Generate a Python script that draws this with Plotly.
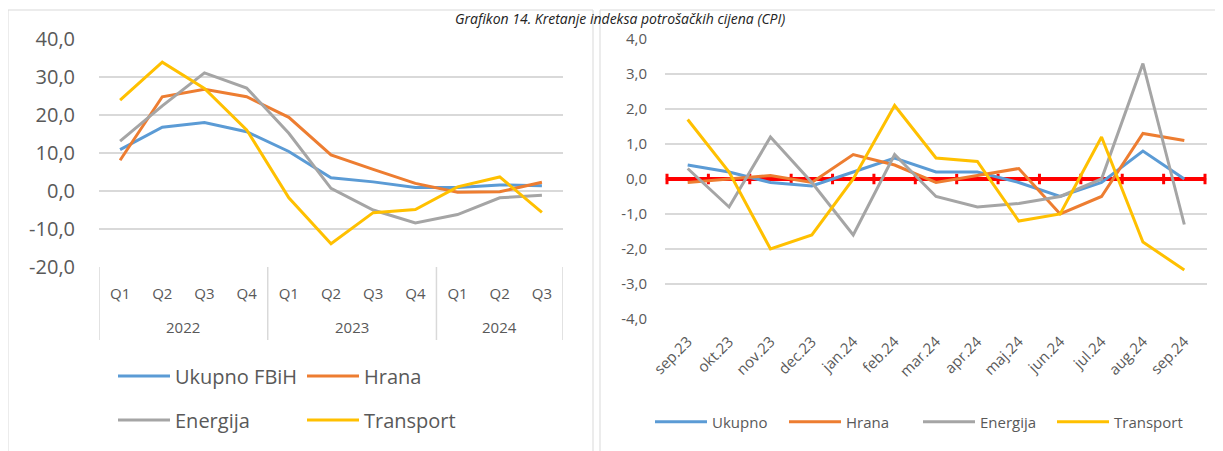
import plotly.graph_objects as go

W, H = 1223, 451
OFF = 8  # page margin of the html body around the figure

# ---------------- data: left chart (quarterly) ----------------
years = ["2022"] * 4 + ["2023"] * 4 + ["2024"] * 3
quarters = ["Q1", "Q2", "Q3", "Q4", "Q1", "Q2", "Q3", "Q4", "Q1", "Q2", "Q3"]
q_ukupno = [10.9, 16.8, 18.0, 15.6, 10.4, 3.5, 2.4, 0.9, 0.9, 1.6, 1.4]
q_hrana = [8.1, 24.8, 26.8, 24.8, 19.4, 9.5, 5.7, 2.0, -0.3, -0.2, 2.3]
q_energija = [13.1, 22.4, 31.1, 27.1, 15.2, 0.7, -5.0, -8.4, -6.2, -1.8, -1.1]
q_transport = [23.9, 33.9, 27.0, 16.1, -1.8, -13.9, -5.7, -4.9, 1.1, 3.7, -5.6]
left_yticks = [-20, -10, 0, 10, 20, 30, 40]

# ---------------- data: right chart (monthly) ----------------
months = ["sep.23", "okt.23", "nov.23", "dec.23", "jan.24", "feb.24", "mar.24",
          "apr.24", "maj.24", "jun.24", "jul.24", "aug.24", "sep.24"]
m_ukupno = [0.4, 0.2, -0.1, -0.2, 0.2, 0.6, 0.2, 0.2, -0.1, -0.5, -0.1, 0.8, 0.0]
m_hrana = [-0.1, 0.0, 0.1, -0.1, 0.7, 0.4, -0.1, 0.1, 0.3, -1.0, -0.5, 1.3, 1.1]
m_energija = [0.3, -0.8, 1.2, -0.1, -1.6, 0.7, -0.5, -0.8, -0.7, -0.5, 0.0, 3.3, -1.3]
m_transport = [1.7, 0.2, -2.0, -1.6, 0.0, 2.1, 0.6, 0.5, -1.2, -1.0, 1.2, -1.8, -2.6]
right_yticks = [-4, -3, -2, -1, 0, 1, 2, 3, 4]

title_text = "Grafikon 14. Kretanje indeksa potrošačkih cijena (CPI)"

# ---------------- styles ----------------
C_BLUE, C_ORANGE, C_GRAY, C_YELLOW = "#5B9BD5", "#ED7D31", "#A5A5A5", "#FFC000"
TXT = "#595959"
GRID = "#D9D9D9"
FONT = "Open Sans"


def fmt(v):
    return f"{v:.1f}".replace(".", ",")


def px_x(p):  # page pixel -> paper fraction
    return (p - OFF) / W


def px_y(p):
    return 1 - (p - OFF) / H


fig = go.Figure()

q_idx = list(range(len(quarters)))  # positions on the left category scale

left_series = [("Ukupno FBiH", q_ukupno, C_BLUE, "legend"),
               ("Hrana", q_hrana, C_ORANGE, "legend"),
               ("Energija", q_energija, C_GRAY, "legend2"),
               ("Transport", q_transport, C_YELLOW, "legend2")]
for name, vals, col, lg in left_series:
    fig.add_trace(go.Scatter(x=q_idx, y=vals, name=name, mode="lines",
                             customdata=years, text=quarters,
                             hovertemplate="%{customdata} %{text}: %{y}",
                             line=dict(color=col, width=3), xaxis="x", yaxis="y",
                             legend=lg))

right_series = [("Ukupno", m_ukupno, C_BLUE),
                ("Hrana", m_hrana, C_ORANGE),
                ("Energija", m_energija, C_GRAY),
                ("Transport", m_transport, C_YELLOW)]
for name, vals, col in right_series:
    fig.add_trace(go.Scatter(x=months, y=vals, name=name, mode="lines",
                             line=dict(color=col, width=3), xaxis="x2", yaxis="y2",
                             legend="legend3"))

shapes = []
annotations = []
# panel borders
shapes.append(dict(type="rect", xref="paper", yref="paper",
                   x0=px_x(8), x1=px_x(593), y0=px_y(470), y1=px_y(10),
                   line=dict(color=GRID, width=1), layer="below"))
shapes.append(dict(type="rect", xref="paper", yref="paper",
                   x0=px_x(600), x1=px_x(1222), y0=px_y(470), y1=px_y(10),
                   line=dict(color=GRID, width=1), layer="below"))

# year groups on the left axis: dividers + labels
groups = []
for i, yv in enumerate(years):
    if not groups or groups[-1][0] != yv:
        groups.append([yv, i, i])
    else:
        groups[-1][2] = i
for yv, a, b in groups:
    shapes.append(dict(type="line", xref="x", yref="paper", x0=a - 0.5, x1=a - 0.5,
                       y0=px_y(267), y1=px_y(340), line=dict(color=GRID, width=1.5)))
    annotations.append(dict(text=yv, xref="x", yref="paper", x=(a + b) / 2,
                            y=px_y(327), xanchor="center", yanchor="middle",
                            showarrow=False, font=dict(size=15, color=TXT)))
shapes.append(dict(type="line", xref="x", yref="paper", x0=len(years) - 0.5,
                   x1=len(years) - 0.5, y0=px_y(267), y1=px_y(340),
                   line=dict(color=GRID, width=1.5)))

# red zero axis with cross tick marks (right chart)
n = len(months)
shapes.append(dict(type="line", xref="x2", yref="y2", x0=-0.5, x1=n - 0.5, y0=0, y1=0,
                   line=dict(color="#FF0000", width=4), layer="between"))
for i in range(n + 1):
    shapes.append(dict(type="line", xref="x2", yref="y2", x0=i - 0.5, x1=i - 0.5,
                       y0=-0.15, y1=0.15, line=dict(color="#FF0000", width=3),
                       layer="between"))

annotations.append(dict(text=title_text, xref="paper", yref="paper",
                        x=px_x(620), y=1, xanchor="center", yanchor="top",
                        showarrow=False, borderpad=0,
                        font=dict(size=14, color="#222222", family=FONT, style="italic")))

fig.update_layout(
    width=W, height=H,
    margin=dict(l=0, r=0, t=0, b=0, autoexpand=False),
    paper_bgcolor="white", plot_bgcolor="white",
    font=dict(family=FONT, color=TXT),
    shapes=shapes,
    annotations=annotations,
    xaxis=dict(domain=[px_x(99), px_x(563)], range=[-0.5, len(quarters) - 0.5],
               tickvals=q_idx, ticktext=quarters, automargin=False,
               showgrid=False, showline=False, ticks="", zeroline=False,
               ticklabelstandoff=16,
               tickfont=dict(size=15, color=TXT), anchor="y"),
    yaxis=dict(domain=[px_y(267), px_y(39)], range=[-20, 40], automargin=False,
               tickvals=left_yticks, ticktext=[fmt(v) for v in left_yticks],
               showgrid=True, gridcolor=GRID, gridwidth=1.5, zeroline=False,
               showline=False, ticks="", ticklabelstandoff=23,
               tickfont=dict(size=20, color=TXT), anchor="x"),
    xaxis2=dict(domain=[px_x(665), px_x(1207)], type="category", automargin=False,
                showgrid=False, showline=False, ticks="", tickangle=-45,
                ticklabelstandoff=10,
                tickfont=dict(size=15, color=TXT), anchor="y2"),
    yaxis2=dict(domain=[px_y(319), px_y(39)], range=[-4, 4], automargin=False,
                tickvals=right_yticks, ticktext=[fmt(v) for v in right_yticks],
                showgrid=True, gridcolor=GRID, gridwidth=1.5, zeroline=False,
                showline=False, ticks="", ticklabelstandoff=17,
                tickfont=dict(size=15, color=TXT), anchor="x2"),
    legend=dict(orientation="h", x=px_x(113), y=px_y(376), xanchor="left",
                yanchor="middle", font=dict(size=20, color=TXT), itemwidth=52,
                entrywidth=122, bgcolor="rgba(0,0,0,0)"),
    legend2=dict(orientation="h", x=px_x(113), y=px_y(420), xanchor="left",
                 yanchor="middle", font=dict(size=20, color=TXT), itemwidth=52,
                 entrywidth=122, bgcolor="rgba(0,0,0,0)"),
    legend3=dict(orientation="h", x=px_x(650), y=px_y(422), xanchor="left",
                 yanchor="middle", font=dict(size=15, color=TXT), itemwidth=52,
                 entrywidth=67, bgcolor="rgba(0,0,0,0)"),
)

fig.write_html("out.html")
